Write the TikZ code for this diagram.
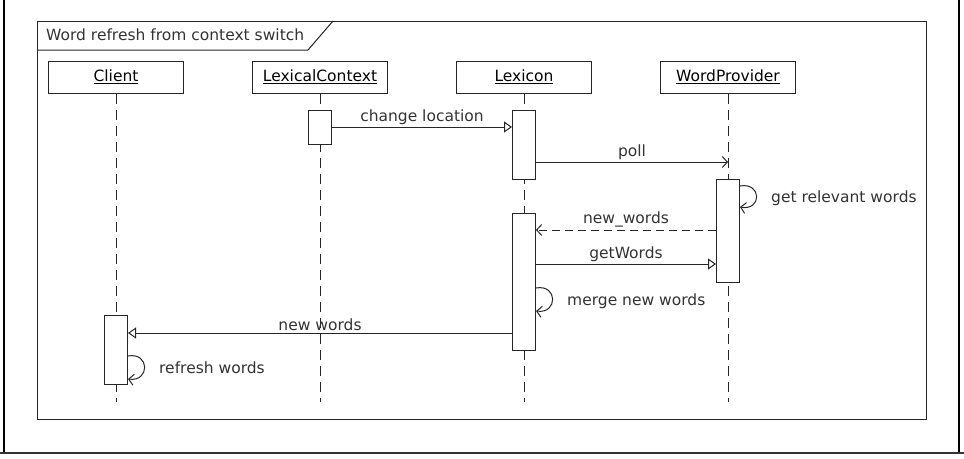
\documentclass[tikz,border=0pt]{standalone}
\usepackage{fontspec}
\setmainfont{DejaVu Sans}
\usetikzlibrary{arrows.meta, positioning}

\tikzset{
    head/.style={draw=black!85, fill=white, line width=1pt, minimum width=135, minimum height=32, inner sep=0pt},
    act/.style={draw=black!85, fill=white, line width=1pt, minimum width=23, inner sep=0pt, anchor=north},
    life/.style={black!85, line width=1pt, dash pattern=on 10pt off 6pt},
    sync/.style={black!85, line width=1pt, -{Triangle[open, length=8pt, width=11pt]}},
    reply/.style={black!85, line width=1pt, -{Straight Barb[length=5pt, width=11pt]}},
    lbl/.style={above, inner sep=2pt, text=black!80}
}

\begin{document}
\begin{tikzpicture}[x=1pt, y=-1pt, every node/.style={font=\fontsize{15.5}{18}\selectfont}]
    \useasboundingbox (0,0) rectangle (964,458);

    % outer frame
    \draw[line width=2pt] (4,0) -- (4,453);
    \draw[line width=2pt] (959,0) -- (959,453);
    \draw[line width=2pt, black!80] (0,453) -- (964,453);

    % frame and title tab
    \draw[line width=1pt, black!85] (37,21) rectangle (926,419);
    \draw[line width=1pt, black!85] (37,50) -- (308,50) -- (333,21);
    \node[anchor=west, inner sep=0pt, text=black!80] (title) at (46,35) {Word refresh from context switch};

    % lifeline heads
    \node[head] (client) at (116,77) {\underline{Client}};
    \node[head] (lexctx) at (320,77) {\underline{LexicalContext}};
    \node[head] (lexicon) at (524,77) {\underline{Lexicon}};
    \node[head] (wordprov) at (728,77) {\underline{WordProvider}};

    % lifelines
    \foreach \n in {client, lexctx, lexicon, wordprov} {
        \coordinate (\n End) at (\n.south |- 0,402);
        \draw[life] (\n.south) -- (\n End);
    }

    % activations
    \node[act, minimum height=34] (lcAct) at (320,110) {};
    \node[act, minimum height=69] (lxActA) at (524,110) {};
    \node[act, minimum height=103] (wpAct) at (728,179) {};
    \node[act, minimum height=137] (lxActB) at (524,213) {};
    \node[act, minimum height=69] (clAct) at (116,315) {};

    % messages
    \draw[sync] (lcAct.east |- 0,127) -- node[lbl] {change location} (lxActA.west |- 0,127);
    \draw[reply] (lxActA.east |- 0,162) -- node[lbl] {poll} (wordprov.south |- 0,162);
    \draw[reply, dash pattern=on 8pt off 5pt] (wpAct.west |- 0,230) -- node[lbl] {new\_words} (lxActB.east |- 0,230);
    \draw[sync] (lxActB.east |- 0,264) -- node[lbl] {getWords} (wpAct.west |- 0,264);
    \draw[sync] (lxActB.west |- 0,333) -- node[lbl] {new words} (clAct.east |- 0,333);

    % self calls
    \draw[reply] (wpAct.east |- 0,186) .. controls (762,182) and (762,211) .. (wpAct.east |- 0,207);
    \node[anchor=west, inner sep=0pt, text=black!80] (getrel) at (771,198) {get relevant words};
    \draw[reply] (lxActB.east |- 0,288) .. controls (558,284) and (558,314) .. (lxActB.east |- 0,311);
    \node[anchor=west, inner sep=0pt, text=black!80] (merge) at (567,301) {merge new words};
    \draw[reply] (clAct.east |- 0,356) .. controls (150,352) and (150,382) .. (clAct.east |- 0,379);
    \node[anchor=west, inner sep=0pt, text=black!80] (refresh) at (159,368) {refresh words};
\end{tikzpicture}
\end{document}
